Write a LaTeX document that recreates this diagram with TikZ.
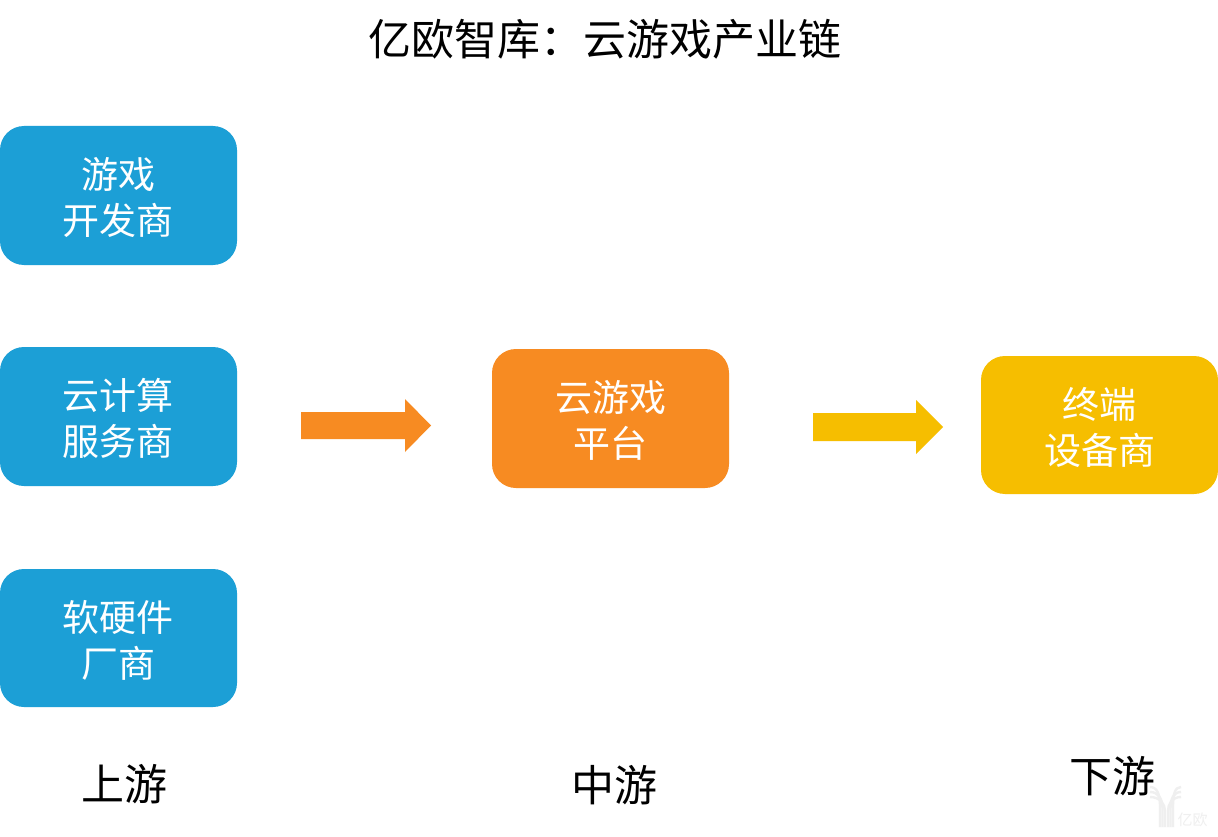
\documentclass[tikz,border=0pt]{standalone}
\usepackage{fontspec}
\setmainfont{Noto Sans CJK SC}[BoldFont={Noto Sans CJK SC}]
\definecolor{cblue}{HTML}{1C9FD6}
\definecolor{corange}{HTML}{F78B22}
\definecolor{cyellow}{HTML}{F6BE00}
\definecolor{wm}{HTML}{EFEFEF}
\newcommand{\boxtext}[1]{\raisebox{-2pt}[\height][\depth]{\parbox{220pt}{\centering #1}}}
\tikzset{
  x=1pt,y=-1pt,
  box/.style={rounded corners=24pt,minimum width=237pt,inner sep=0pt,text=white,font=\fontsize{37}{46}\selectfont,anchor=center},
  tall/.style={box,minimum height=139pt},
  short/.style={box,minimum height=138pt},
  lbl/.style={font=\fontsize{43}{50}\selectfont,text=black,inner sep=0pt,anchor=center},
  wmline/.style={draw=wm,line width=2.4pt}
}
\begin{document}
\begin{tikzpicture}
\useasboundingbox (0,0) rectangle (1218,837);
\fill[white] (0,0) rectangle (1218,837);
% watermark
\foreach \d in {0,5,10} {
  \draw[wmline] (1150,787+\d) .. controls (1157+\d*0.3,787+\d) and (1160+\d*0.5,794+\d) .. (1160+\d*0.5,806+\d*0.5) -- (1160+\d*0.5,827);
  \draw[wmline] (1181,787+\d) .. controls (1175-\d*0.3,787+\d) and (1173-\d*0.5,794+\d) .. (1173-\d*0.5,806+\d*0.5) -- (1173-\d*0.5,827);
}
\node[font=\fontsize{15}{15}\selectfont,text=wm,inner sep=0pt] (wmtext) at (1192.5,820) {亿欧};
\node[lbl] (title) at (605,39) {亿欧智库：云游戏产业链};
\node[tall,fill=cblue] (a) at (118.5,195.5) {\boxtext{游戏\\开发商}};
\node[tall,fill=cblue] (b) at (118.5,416.5) {\boxtext{云计算\\服务商}};
\node[short,fill=cblue] (c) at (118.5,638) {\boxtext{软硬件\\厂商}};
\node[tall,fill=corange] (d) at (610.5,418.5) {\boxtext{云游戏\\平台}};
\node[short,fill=cyellow] (e) at (1099.5,425) {\boxtext{终端\\设备商}};
\fill[corange] (301,412)--(405,412)--(405,399)--(431,425.5)--(405,452)--(405,439)--(301,439)--cycle;
\fill[cyellow] (813,413)--(916,413)--(916,400)--(943,427)--(916,454)--(916,441)--(813,441)--cycle;
\node[lbl] (u) at (124,784) {上游};
\node[lbl] (m) at (614,785) {中游};
\node[lbl] (l) at (1112,776) {下游};
\end{tikzpicture}
\end{document}
